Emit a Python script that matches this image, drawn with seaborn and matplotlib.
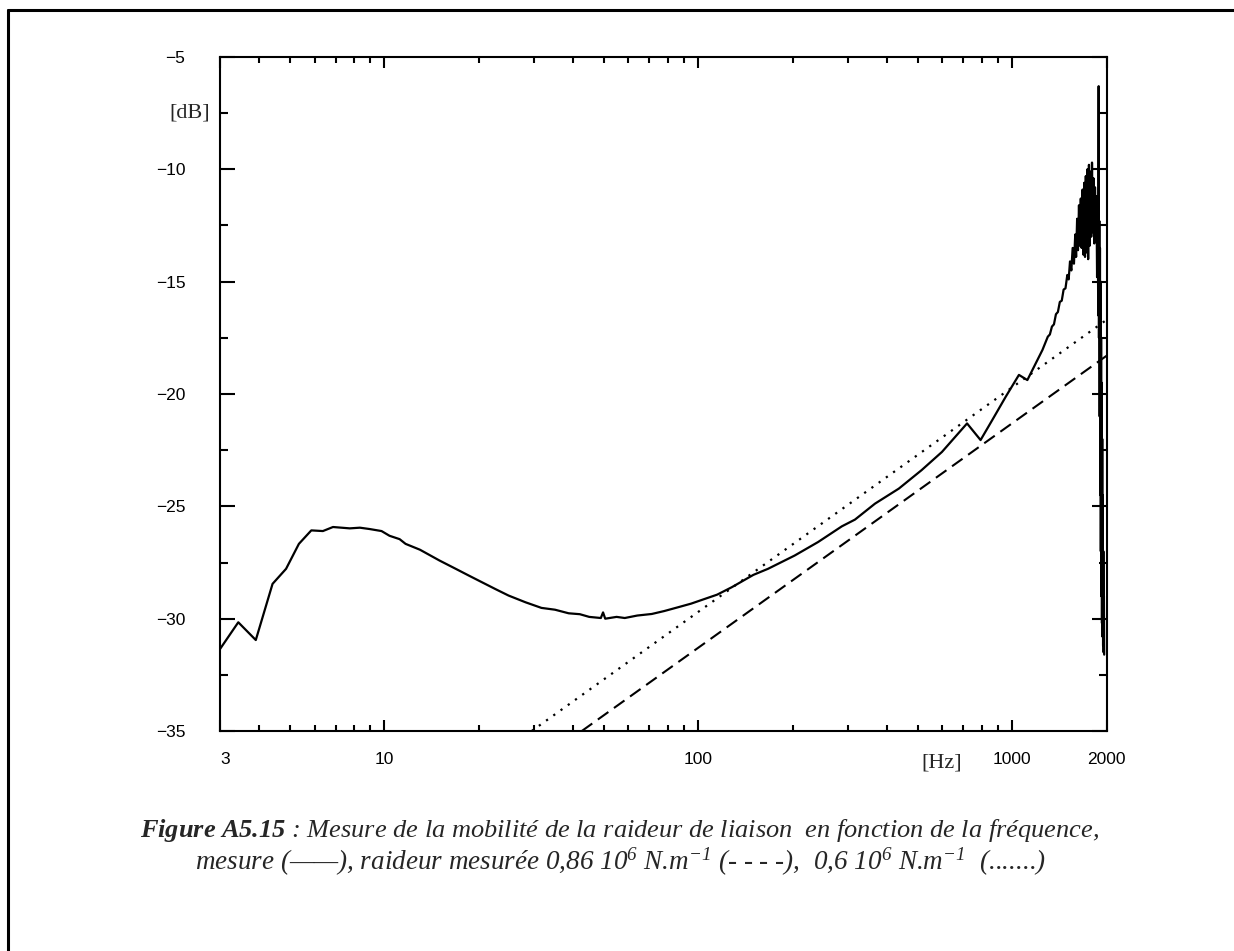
import matplotlib
matplotlib.use("Agg")
import matplotlib.pyplot as plt
import seaborn as sns
from matplotlib.lines import Line2D
from matplotlib.ticker import FixedLocator, NullFormatter

# measured mobility (solid)
freq_meas = [3.0, 3.43, 3.90, 4.41, 4.87, 5.35, 5.86, 6.38, 6.87, 7.77, 8.37, 8.99,
             9.81, 10.4, 11.2, 11.7, 13.0, 15.0, 16.9, 18.6, 20.5, 22.6, 24.9, 28.2,
             31.7, 35.0, 38.7, 42.0, 45.0, 49.0, 49.8, 50.6, 55.0, 58.4, 64.0, 71.2,
             78.0, 86.4, 95.0, 105, 115, 128, 150,
             167, 203, 241, 287, 316, 366, 436, 515, 598, 660, 719, 794, 865, 955,
             1052, 1119, 1250,
             1300, 1320, 1340, 1360, 1380, 1400, 1420, 1440, 1460, 1480, 1500, 1515,
             1530, 1545, 1560, 1575, 1590, 1600, 1612, 1622, 1634, 1644, 1656, 1666,
             1678, 1688, 1698, 1708, 1718, 1728, 1738, 1748, 1758, 1768, 1778, 1788,
             1798, 1808, 1818, 1828, 1838, 1848, 1858, 1866, 1874, 1882, 1888, 1892,
             1897, 1902, 1906, 1910, 1914, 1918, 1922, 1926, 1930, 1934, 1938, 1942,
             1946, 1950, 1954, 1958, 1962, 1966]
db_meas = [-31.35, -30.16, -30.95, -28.45, -27.78, -26.67, -26.07, -26.10, -25.92, -25.98, -25.95, -26.01,
           -26.10, -26.31, -26.46, -26.67, -26.93, -27.41, -27.78, -28.08, -28.38, -28.68, -28.97, -29.27,
           -29.52, -29.60, -29.76, -29.80, -29.92, -29.97, -29.72, -30.0, -29.92, -29.97, -29.86, -29.79,
           -29.66, -29.49, -29.33, -29.12, -28.93, -28.6, -28.05,
           -27.78, -27.19, -26.59, -25.89, -25.59, -24.88, -24.21, -23.39, -22.58, -21.9, -21.31, -22.05, -21.16, -20.12,
           -19.15, -19.38, -18.04,
           -17.45, -17.35, -17.0, -16.9, -16.45, -16.35, -15.9, -15.85, -15.35, -15.3, -14.7, -14.9,
           -14.1, -14.5, -13.5, -14.2, -12.9, -13.9, -12.2, -13.6, -11.6, -13.4, -11.3, -13.5,
           -10.9, -13.8, -10.6, -13.9, -10.3, -13.7, -10.0, -14.0, -9.8, -13.4, -10.1, -13.0,
           -9.7, -12.8, -10.4, -13.3, -10.8, -12.5, -11.2, -14.8, -11.6, -16.5, -6.3, -17.5,
           -12.3, -21.0, -13.5, -24.5, -15.0, -27.0, -17.5, -29.0, -19.5, -30.2, -22.0, -30.8,
           -24.5, -31.2, -27.0, -31.5, -29.0, -31.6]

# stiffness 0.86e6 N/m (dashed)
freq_k086 = [42.6, 2000]
db_k086 = [-35.0, -18.3]
# stiffness 0.6e6 N/m (dotted)
freq_k06 = [29.5, 2000]
db_k06 = [-35.0, -16.7]

x_major = [3, 10, 100, 1000, 2000]
x_labels = ["3", "10", "100", "1000", "2000"]
x_minor = [4, 5, 6, 7, 8, 9, 20, 30, 40, 50, 60, 70, 80, 90,
           200, 300, 400, 500, 600, 700, 800, 900]
y_major = [-35, -30, -25, -20, -15, -10, -5]
y_minor = [-32.5, -27.5, -22.5, -17.5, -12.5, -7.5]

sns.set_style("ticks")
plt.rcParams['font.family'] = ['Liberation Sans', 'DejaVu Sans']
plt.rcParams['mathtext.fontset'] = 'custom'
plt.rcParams['mathtext.rm'] = 'Liberation Serif:italic'
plt.rcParams['mathtext.it'] = 'Liberation Serif:italic'
plt.rcParams['mathtext.bf'] = 'Liberation Serif:italic:bold'

fig = plt.figure(figsize=(12.34, 9.51), dpi=100)
ax = fig.add_axes([0.1783, 0.2313, 0.7184, 0.7088])

sns.lineplot(x=freq_k06, y=db_k06, ax=ax, color='black', lw=1.6,
             linestyle=(0, (1, 3)), estimator=None, sort=False)
sns.lineplot(x=freq_k086, y=db_k086, ax=ax, color='black', lw=1.5,
             linestyle=(0, (6.2, 3.3)), estimator=None, sort=False)
sns.lineplot(x=freq_meas, y=db_meas, ax=ax, color='black', lw=1.6,
             estimator=None, sort=False)

ax.set_xscale('log')
ax.set_xlim(3, 2000)
ax.set_ylim(-35, -5)

ax.set_xticks(x_major)
ax.set_xticklabels(x_labels)
ax.xaxis.set_minor_locator(FixedLocator(x_minor))
ax.xaxis.set_minor_formatter(NullFormatter())
ax.set_yticks(y_major)
ax.set_yticklabels([str(v).replace('-', '\u2212') for v in y_major])
ax.yaxis.set_minor_locator(FixedLocator(y_minor))

ax.tick_params(which='both', direction='in', top=True, right=True, width=1.5, colors='black')
ax.tick_params(axis='x', which='major', length=7.7, pad=15, labelsize=12.5)
ax.tick_params(axis='x', which='minor', length=4.3)
ax.tick_params(axis='y', which='major', length=10.8, pad=25, labelsize=12.5)
ax.tick_params(axis='y', which='minor', length=5.8)
ax.xaxis.get_major_ticks()[0].label1.set_horizontalalignment('left')

for s in ax.spines.values():
    s.set_linewidth(1.5)
    s.set_color('black')

ax.set_xlabel('')
ax.set_ylabel('')
ax.text(-0.011, 0.917, '[dB]', transform=ax.transAxes, ha='right', va='center',
        family='Liberation Serif', fontsize=16)
ax.text(0.791, -0.047, '[Hz]', transform=ax.transAxes, ha='left', va='center',
        family='Liberation Serif', fontsize=16)

line1 = (r"$\mathbf{Figure\ A5.15}$ : Mesure de la mobilité de la raideur de liaison  "
         r"en fonction de la fréquence,")
line2 = (r"mesure (——), raideur mesurée 0,86 10$^{6}$ N.m$^{-1}$ (- - - -),  "
         r"0,6 10$^{6}$ N.m$^{-1}$  (.......)")
fig.text(0.502, 0.1272, line1, ha='center', va='center', family='Liberation Serif',
         style='italic', fontsize=19)
fig.text(0.503, 0.0936, line2, ha='center', va='center', family='Liberation Serif',
         style='italic', fontsize=19.5)

# page frame
fig.add_artist(Line2D([0.0065, 0.0065], [0.0, 0.9895], transform=fig.transFigure,
                      color='black', lw=2.2))
fig.add_artist(Line2D([0.0065, 1.0], [0.9895, 0.9895], transform=fig.transFigure,
                      color='black', lw=2.2))

fig.savefig('out.png', dpi=100)
